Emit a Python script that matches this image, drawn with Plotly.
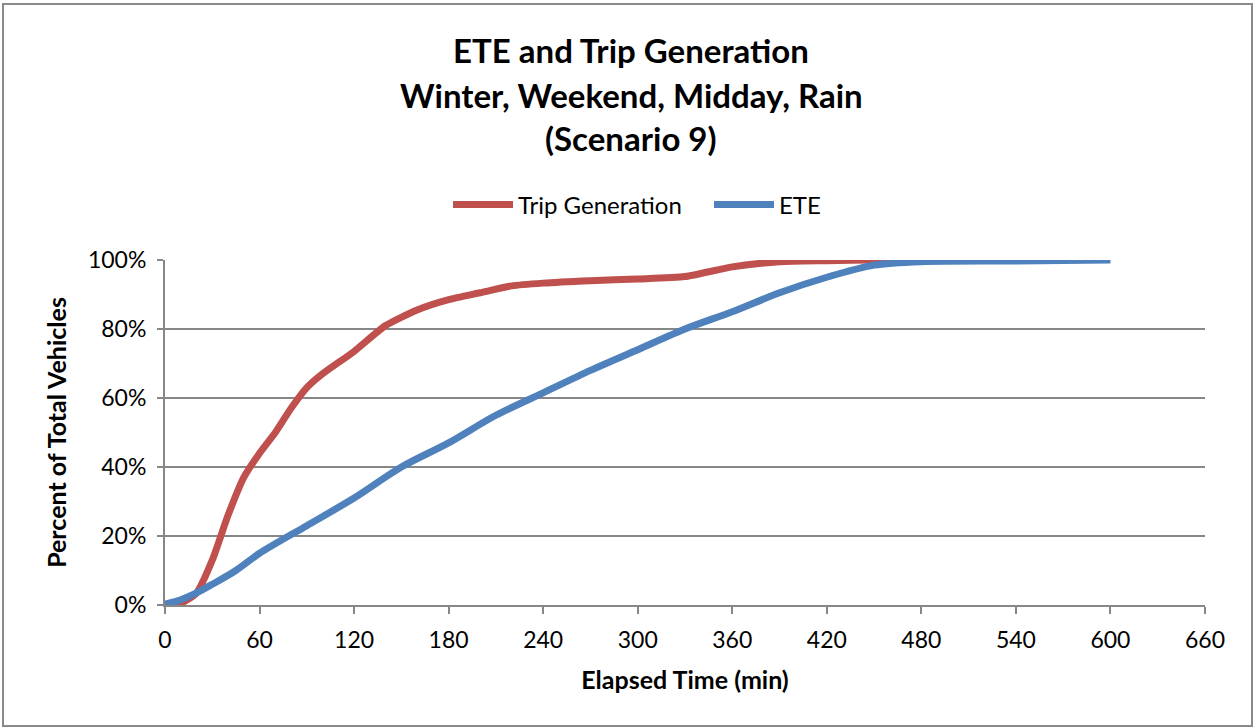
import plotly.graph_objects as go

# Data
trip_time = [0, 10, 20, 30, 40, 50, 60, 70, 80, 90, 100, 120, 140, 160, 180,
             200, 220, 240, 270, 300, 330, 360, 390, 420, 450, 480]
trip_pct = [0, 0.5, 3.5, 13, 26, 37, 44, 50, 57, 63, 67, 73.5, 81, 85.5, 88.5,
            90.5, 92.5, 93.3, 94, 94.5, 95.2, 98, 99.5, 99.8, 100, 100]

ete_time = [0, 10, 20, 30, 45, 60, 90, 120, 150, 180, 210, 240, 270, 300,
            330, 360, 390, 420, 450, 480, 540, 600]
ete_pct = [0.3, 1.5, 3.5, 6, 10, 15, 23, 31, 40, 47, 55, 61.5, 68, 74,
           80, 85, 90.5, 95, 98.5, 99.5, 99.7, 100]

x_ticks = list(range(0, 661, 60))
y_ticks = [0, 20, 40, 60, 80, 100]
y_tick_labels = [f"{v}%" for v in y_ticks]

title_lines = ["ETE and Trip Generation", "Winter, Weekend, Midday, Rain", "(Scenario 9)"]

FONT = "Lato, 'Open Sans', sans-serif"
RED = "#C0504D"
BLUE = "#4F81BD"
GRID = "#878787"

fig = go.Figure()
fig.add_trace(go.Scatter(x=trip_time, y=trip_pct, mode="lines", name="Trip Generation",
                         line=dict(color=RED, width=7, shape="spline", smoothing=0.6)))
fig.add_trace(go.Scatter(x=ete_time, y=ete_pct, mode="lines", name="ETE",
                         line=dict(color=BLUE, width=7, shape="spline", smoothing=0.8)))

L, R, T, B = 165, 49, 260, 123
W, H = 1254, 728
pw, ph = W - L - R, H - T - B

def px_to_paper_y(py):
    return (H - B - py) / ph

def px_to_paper_x(px):
    return (px - L) / pw

annotations = []
for line, py in zip(title_lines, [50, 95, 138]):
    annotations.append(dict(text=f"<b>{line}</b>", x=px_to_paper_x(631), y=px_to_paper_y(py),
                            xref="paper", yref="paper", xanchor="center", yanchor="middle",
                            showarrow=False, font=dict(family=FONT, size=33, color="black")))

fig.update_layout(
    width=W, height=H,
    margin=dict(l=L, r=R, t=T, b=B),
    paper_bgcolor="white", plot_bgcolor="white",
    font=dict(family=FONT, size=23, color="black"),
    annotations=annotations,
    showlegend=True,
    legend=dict(orientation="h", x=px_to_paper_x(709), xanchor="center",
                y=px_to_paper_y(205), yanchor="middle",
                font=dict(family=FONT, size=24), itemwidth=60, entrywidth=186,
                bgcolor="rgba(0,0,0,0)"),
    xaxis=dict(range=[0, 660], tickvals=x_ticks, showgrid=False, zeroline=False,
               showline=True, linecolor=GRID, linewidth=2,
               ticks="outside", ticklen=7, tickcolor=GRID, tickwidth=2,
               tickfont=dict(size=23), ticklabelstandoff=6,
               title=dict(text="<b>Elapsed Time (min)</b>", font=dict(size=25), standoff=20)),
    yaxis=dict(range=[0, 100], tickvals=y_ticks, ticktext=y_tick_labels,
               showgrid=True, gridcolor=GRID, gridwidth=2, zeroline=False,
               showline=True, linecolor=GRID, linewidth=2,
               ticks="outside", ticklen=6, tickcolor=GRID, tickwidth=2,
               tickfont=dict(size=23), ticklabelstandoff=6,
               title=dict(text="<b>Percent of Total Vehicles</b>", font=dict(size=25), standoff=14)),
    shapes=[dict(type="rect", xref="paper", yref="paper",
                 x0=px_to_paper_x(3), x1=px_to_paper_x(1252),
                 y0=px_to_paper_y(726), y1=px_to_paper_y(4),
                 line=dict(color="#8a8a8a", width=2), fillcolor="rgba(0,0,0,0)", layer="below")],
)

fig.write_html("out.html", config={"displayModeBar": False},
               post_script="document.body.style.margin='0';document.body.style.overflow='hidden';")
